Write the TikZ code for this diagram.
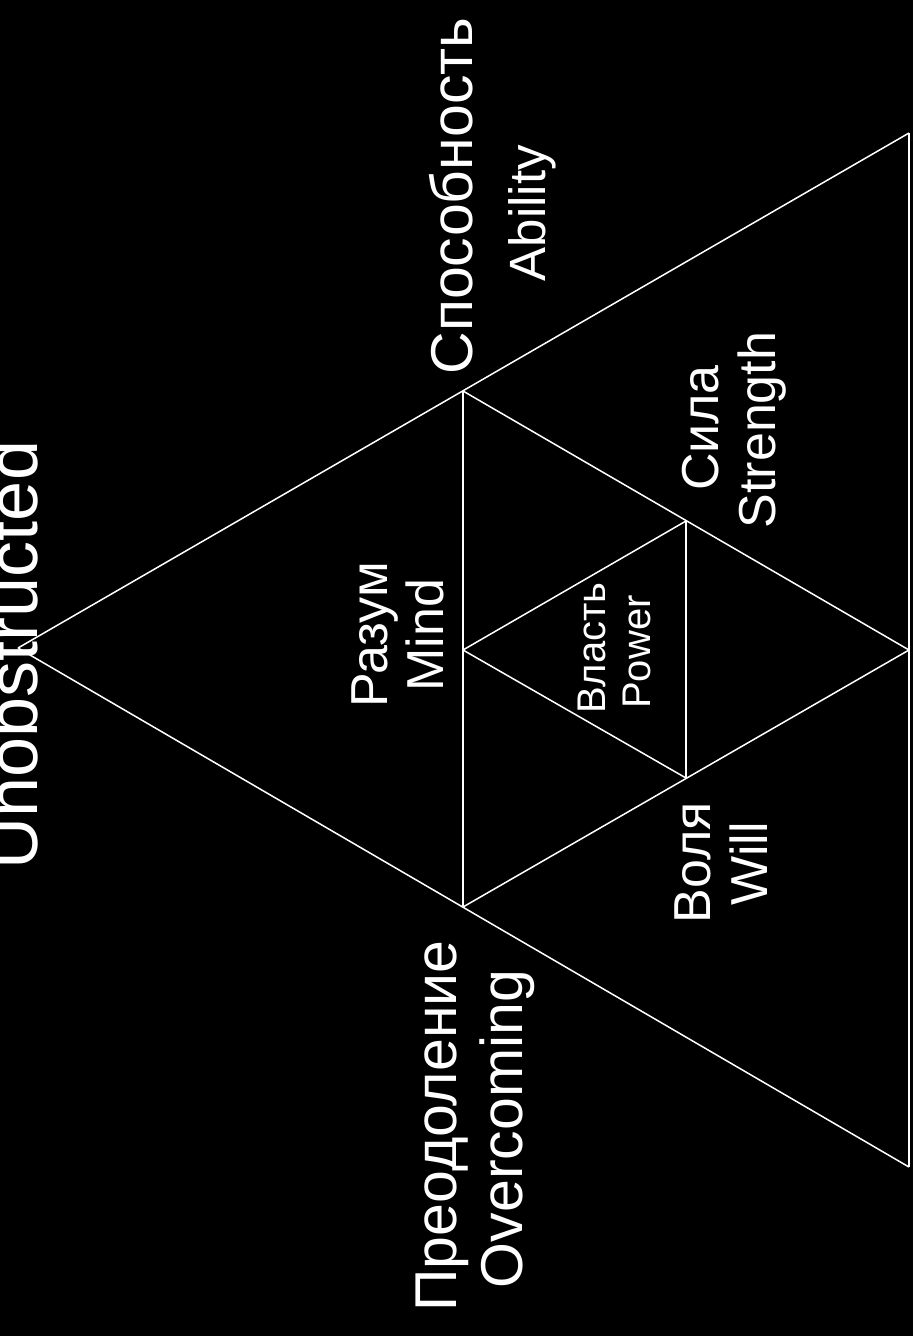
\documentclass[tikz,border=0pt]{standalone}
\usepackage{fontspec}
\setmainfont{Liberation Sans}
\begin{document}
\begin{tikzpicture}[x=1pt,y=-1pt,
  edge/.style={draw=white,line width=1.5pt},
  lbl/.style={text=white,rotate=90,anchor=base,inner sep=0pt},
  big/.style={lbl,font=\fontsize{59}{59}\selectfont},
  mid/.style={lbl,font=\fontsize{52}{52}\selectfont},
  small/.style={lbl,font=\fontsize{40}{40}\selectfont}]
\fill[black] (0,0) rectangle (913,1336);
\useasboundingbox (0,0) rectangle (913,1336);
\clip (0,0) rectangle (913,1336);
% vertices
\coordinate (A) at (18,648);
\coordinate (T) at (909,133);
\coordinate (B) at (909,1167);
\coordinate (M1) at (463,391);
\coordinate (M2) at (463,907);
\coordinate (R) at (909,650);
\coordinate (N1) at (686,521);
\coordinate (N2) at (686,778);
\coordinate (C) at (463,650);
% lines
\draw[edge] (A) -- (T);
\draw[edge] (A) -- (B);
\draw[edge] (T) -- (B);
\draw[edge] (M1) -- (M2);
\draw[edge] (M1) -- (R);
\draw[edge] (M2) -- (R);
\draw[edge] (N1) -- (N2);
\draw[edge] (C) -- (N1);
\draw[edge] (C) -- (N2);
% labels
\node[big] (abilRu) at (472,196) {Способность};
\node[lbl,font=\fontsize{51}{51}\selectfont] (abilEn) at (545,213) {Ability};
\node[mid] (strRu) at (718,428) {Сила};
\node[mid] (strEn) at (775,430) {Strength};
\node[mid] (mindRu) at (387,635) {Разум};
\node[mid] (mindEn) at (443,635) {Mind};
\node[small] (powRu) at (605,648) {Власть};
\node[small] (powEn) at (650,652) {Power};
\node[mid] (willRu) at (710,863) {Воля};
\node[mid] (willEn) at (767,864) {Will};
\node[big] (overRu) at (456,1126) {Преодоление};
\node[big] (overEn) at (522,1129) {Overcoming};
\node[lbl,font=\fontsize{72}{72}\selectfont] (unob) at (37,655) {Unobstructed};
\end{tikzpicture}
\end{document}
